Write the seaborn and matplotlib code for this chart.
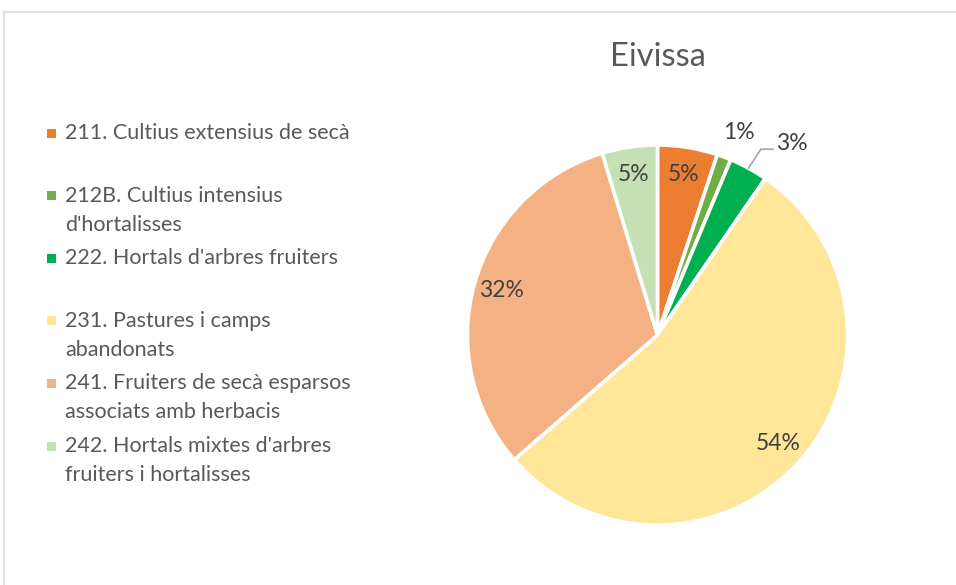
import numpy as np
import matplotlib
matplotlib.use("Agg")
import matplotlib.pyplot as plt
import seaborn as sns
from matplotlib.patches import Rectangle
from matplotlib.lines import Line2D

# ---- data ----
categories = [
    "211. Cultius extensius de secà",
    "212B. Cultius intensius\nd'hortalisses",
    "222. Hortals d'arbres fruiters",
    "231. Pastures i camps\nabandonats",
    "241. Fruiters de secà esparsos\nassociats amb herbacis",
    "242. Hortals mixtes d'arbres\nfruiters i hortalisses",
]
values = [5.1, 1.2, 3.3, 54.0, 31.7, 4.7]
pct_labels = ["5%", "1%", "3%", "54%", "32%", "5%"]
colors = ["#ED7D31", "#70AD47", "#00B050", "#FFE699", "#F4B183", "#C5E0B4"]
title = "Eivissa"

sns.set_theme(style="white")
plt.rcParams["font.family"] = ["Lato", "DejaVu Sans"]
TXT = "#595959"
LBL = "#404040"

W, H = 956, 585
fig = plt.figure(figsize=(W / 100, H / 100), dpi=100)

# border of chart area
fig.add_artist(Line2D([4 / W, 4 / W], [0, 1 - 12 / H], color="#D9D9D9", lw=1.2))
fig.add_artist(Line2D([4 / W, 1], [1 - 12 / H, 1 - 12 / H], color="#D9D9D9", lw=1.2))

# pie axes
cx, cy, r = 657.5, 335, 190
ax = fig.add_axes([(cx - r) / W, 1 - (cy + r) / H, 2 * r / W, 2 * r / H])
wedges, _ = ax.pie(values, colors=colors, startangle=90, counterclock=False,
                   wedgeprops=dict(edgecolor="white", linewidth=2.6), radius=1.0)
ax.set_xlim(-1, 1)
ax.set_ylim(-1, 1)
ax.set_aspect("equal")
ax.axis("off")

FS_LBL = 16.5
# data labels inside
for i, w in enumerate(wedges):
    if i in (1, 2):
        continue
    ang = np.deg2rad((w.theta1 + w.theta2) / 2)
    rr = 0.855
    ax.text(rr * np.cos(ang), rr * np.sin(ang), pct_labels[i], ha="center", va="center",
            fontsize=FS_LBL, color=LBL)

# outside labels for small slices
w = wedges[1]
ang = np.deg2rad((w.theta1 + w.theta2) / 2)
ax.text(1.14 * np.cos(ang) + 0.03, 1.14 * np.sin(ang), pct_labels[1], ha="center", va="center",
        fontsize=FS_LBL, color=LBL)
w = wedges[2]
ang = np.deg2rad((w.theta1 + w.theta2) / 2)
p0 = (1.0 * np.cos(ang), 1.0 * np.sin(ang))
p1 = (p0[0] + 0.065, p0[1] + 0.10)
p2 = (p1[0] + 0.065, p1[1])
ax.plot([p0[0], p1[0], p2[0]], [p0[1], p1[1], p2[1]], color="#A6A6A6", lw=1.2, clip_on=False)
ax.text(p2[0] + 0.015, p2[1] + 0.03, pct_labels[2], ha="left", va="center",
        fontsize=FS_LBL, color=LBL)

# title
fig.text(cx / W, 1 - 57 / H, title, ha="center", va="center", fontsize=23.5, color=TXT)

# legend (manual, Excel-style two lines per entry)
y0 = 133
step = 62.6
lh = 29
for i, (lab, col) in enumerate(zip(categories, colors)):
    y = y0 + i * step
    fig.add_artist(Rectangle((46.5 / W, 1 - (y + 4.5) / H), 9 / W, 9 / H,
                             facecolor=col, edgecolor="none", transform=fig.transFigure))
    for j, line in enumerate(lab.split("\n")):
        fig.text(65 / W, 1 - (y + j * lh) / H, line, ha="left", va="center", fontsize=15.5,
                 color=TXT, transform=fig.transFigure)

fig.savefig("out.png", dpi=100, facecolor="white")
